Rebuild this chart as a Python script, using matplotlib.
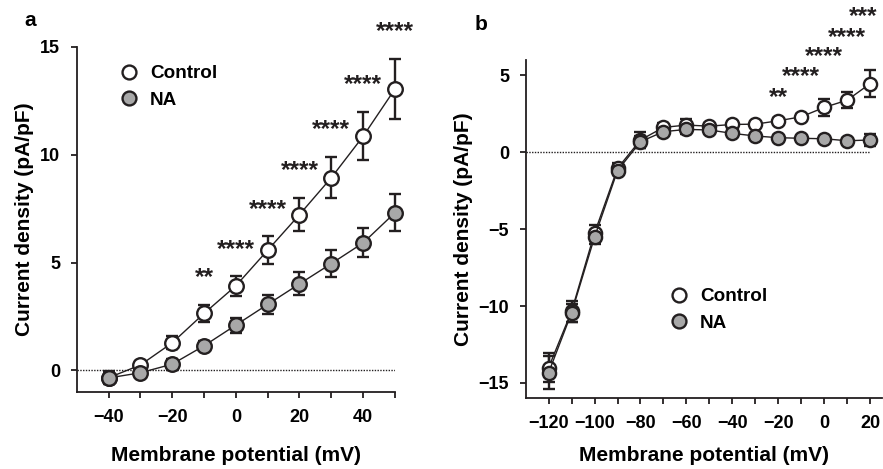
import numpy as np
import matplotlib
matplotlib.use("Agg")
import matplotlib.pyplot as plt
from matplotlib.lines import Line2D

plt.rcParams["font.family"] = ["Liberation Sans", "DejaVu Sans"]
plt.rcParams["font.weight"] = "bold"
plt.rcParams["axes.unicode_minus"] = True

INK = "#231f20"
GRAY = "#a8a8a8"

# ---- panel a: depolarising steps ----
v_a = [-40, -30, -20, -10, 0, 10, 20, 30, 40, 50]
ctrl_a = [-0.34, 0.25, 1.28, 2.64, 3.92, 5.57, 7.22, 8.93, 10.85, 13.04]
ctrl_a_err = [0.3, 0.2, 0.3, 0.38, 0.46, 0.65, 0.75, 0.96, 1.12, 1.37]
na_a = [-0.35, -0.11, 0.29, 1.14, 2.1, 3.06, 4.01, 4.95, 5.91, 7.31]
na_a_err = [0.25, 0.15, 0.25, 0.2, 0.35, 0.45, 0.53, 0.63, 0.67, 0.87]
star_a_x = [-10, 0, 10, 20, 30, 40, 50]
star_a_y = [4.5, 5.8, 7.65, 9.43, 11.36, 13.44, 15.88]
star_a_txt = ["**", "****", "****", "****", "****", "****", "****"]
xt_a = [-40, -30, -20, -10, 0, 10, 20, 30, 40, 50]
xtl_a = ["\u221240", "", "\u221220", "", "0", "", "20", "", "40", ""]
yt_a = [0, 5, 10, 15]

# ---- panel b: full range ----
v_b = [-120, -110, -100, -90, -80, -70, -60, -50, -40, -30, -20, -10, 0, 10, 20]
ctrl_b = [-14.0, -10.34, -5.25, -1.04, 0.8, 1.62, 1.77, 1.7, 1.81, 1.83, 2.05, 2.31, 2.92, 3.39, 4.47]
ctrl_b_err = [0.95, 0.7, 0.5, 0.35, 0.55, 0.3, 0.4, 0.2, 0.15, 0.15, 0.15, 0.2, 0.54, 0.5, 0.85]
na_b = [-14.33, -10.44, -5.51, -1.19, 0.69, 1.34, 1.49, 1.45, 1.23, 1.06, 0.95, 0.91, 0.88, 0.75, 0.8]
na_b_err = [1.05, 0.6, 0.45, 0.3, 0.4, 0.25, 0.3, 0.2, 0.15, 0.15, 0.15, 0.15, 0.15, 0.15, 0.38]
star_b_x = [-20, -10, 0, 10, 17]
star_b_y = [3.83, 5.16, 6.52, 7.72, 9.1]
star_b_txt = ["**", "****", "****", "****", "***"]
xt_b = list(range(-120, 21, 10))
xtl_b = ["\u2212120", "", "\u2212100", "", "\u221280", "", "\u221260", "", "\u221240", "",
         "\u221220", "", "0", "", "20"]
yt_b = [-15, -10, -5, 0, 5]


def draw_series(ax, x, y, err, face, ms):
    ax.errorbar(x, y, yerr=err, fmt="o-", color=INK, lw=1.0, ms=ms,
                mfc=face, mec=INK, mew=1.7, elinewidth=1.7, capsize=4.5,
                capthick=1.7, clip_on=False)


def style_axes(ax, xlim, ylim, xt, xtl, yt, xpad):
    ax.set_xlim(*xlim)
    ax.set_ylim(*ylim)
    ax.set_xticks(xt)
    ax.set_xticklabels(xtl)
    ax.set_yticks(yt)
    ax.set_yticklabels([f"{t}".replace("-", "\u2212") for t in yt])
    for s in ("top", "right"):
        ax.spines[s].set_visible(False)
    for s in ("left", "bottom"):
        ax.spines[s].set_linewidth(1.3)
        ax.spines[s].set_color(INK)
    ax.tick_params(direction="out", length=4, width=1.3, color=INK,
                   labelsize=13, pad=8)
    ax.set_xlabel("Membrane potential (mV)", fontsize=15, fontweight="bold", labelpad=xpad)
    ax.set_ylabel("Current density (pA/pF)", fontsize=15, fontweight="bold", labelpad=4)
    ax.hlines(0, xlim[0], xt[-1], colors=INK, linestyles=(0, (1, 1)), lw=1.0, zorder=1)


def add_stars(ax, xs, ys, txts):
    for sx, sy, st in zip(xs, ys, txts):
        ax.annotate(st, (sx, sy), xytext=(0, -4), textcoords="offset pixels",
                    ha="center", va="center", fontsize=17.5, fontweight="bold",
                    color=INK, annotation_clip=False)


def add_legend(ax, x_px, y_px, handles):
    ax.legend(handles, ["Control", "NA"], loc="upper left", frameon=False,
              bbox_to_anchor=(x_px / 883, 1 - y_px / 469), bbox_transform=fig.transFigure,
              prop={"size": 13.6, "weight": "bold"}, handlelength=1.0,
              handletextpad=0.6, labelspacing=0.5, borderpad=0, borderaxespad=0)


fig = plt.figure(figsize=(8.83, 4.69), dpi=100)
ax_a = fig.add_axes([0.0869, 0.1642, 0.3604, 0.7362])
ax_b = fig.add_axes([0.5953, 0.1507, 0.4032, 0.7213])

style_axes(ax_a, (-50, 50), (-1, 15), xt_a, xtl_a, yt_a, 15)
draw_series(ax_a, v_a, ctrl_a, ctrl_a_err, "white", 10.5)
draw_series(ax_a, v_a, na_a, na_a_err, GRAY, 10.5)
add_stars(ax_a, star_a_x, star_a_y, star_a_txt)

style_axes(ax_b, (-130, 25), (-16, 6), xt_b, xtl_b, yt_b, 10)
draw_series(ax_b, v_b, ctrl_b, ctrl_b_err, "white", 9.5)
draw_series(ax_b, v_b, na_b, na_b_err, GRAY, 9.5)
add_stars(ax_b, star_b_x, star_b_y, star_b_txt)

handles = [
    Line2D([], [], ls="none", marker="o", ms=10, mfc="white", mec=INK, mew=1.7),
    Line2D([], [], ls="none", marker="o", ms=10, mfc=GRAY, mec=INK, mew=1.7),
]
add_legend(ax_a, 120, 65, handles)
add_legend(ax_b, 670, 288, handles)

fig.text(30 / 883, 1 - 20 / 469, "a", fontsize=15, fontweight="bold",
         ha="center", va="center")
fig.text(481 / 883, 1 - 25 / 469, "b", fontsize=15, fontweight="bold",
         ha="center", va="center")

fig.savefig("out.png", dpi=100)
